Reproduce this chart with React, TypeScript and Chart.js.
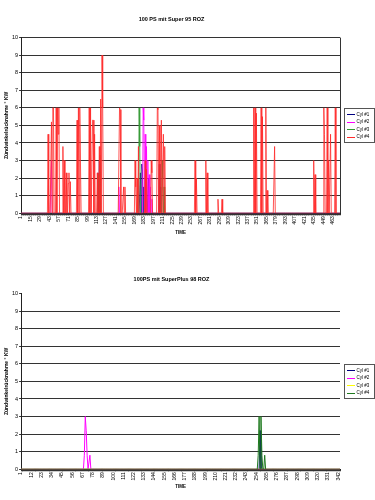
import React, { useEffect, useRef } from 'react';
import { Chart, registerables } from 'chart.js';

Chart.register(...registerables);

// ---------- text ----------
const TITLE_1 = '100 PS mit Super 95 ROZ';
const TITLE_2 = '100PS mit SuperPlus 98 ROZ';
const Y_TITLE = 'Zündwinkelrücknahme ° KW';
const X_TITLE = 'TIME';
const SERIES_NAMES = ['Cyl #1', 'Cyl #2', 'Cyl #3', 'Cyl #4'];

// ---------- axes ----------
const POINTS_1 = 474; // TIME samples, chart 1
const LABEL_STEP_1 = 14; // 1, 15, 29 ... 463
const POINTS_2 = 344; // TIME samples, chart 2
const LABEL_STEP_2 = 11; // 1, 12, 23 ... 342
const Y_MIN = 0;
const Y_MAX = 10;

// ---------- chart 1 data: [TIME, value] (all other samples are 0) ----------
const c1Cyl1 = [
  [115, 2.3], [117, 3], [178, 2.3], [180, 2.8], [181, 2.4], [183, 1.5], [190, 2], [206, 2.8], [208, 1.5],
];
const c1Cyl2 = [
  [46, 3], [146, 1.5], [182, 6], [183, 5.3], [185, 4.5], [187, 3.8], [189, 3], [191, 2.2], [193, 1.5], [195, 0.8],
];
const c1Cyl3 = [
  [116, 2.2], [118, 3.3], [176, 6], [177, 3.8], [210, 3], [211, 2], [213, 1.5],
];
const c1Cyl4 = [
  [41, 4.5], [46, 5.2], [48, 6], [49, 6], [53, 6], [55, 6], [56, 4.5], [57, 6],
  [63, 3.8], [65, 3], [68, 2.3], [71, 1.7], [72, 2.3], [74, 1.8],
  [84, 5.3], [86, 6], [88, 6], [89, 3],
  [102, 6], [104, 6], [107, 5.3], [108, 5.3], [110, 4.5],
  [114, 2.3], [117, 3.8], [119, 6.5], [121, 9], [122, 6],
  [147, 6], [148, 5.9], [153, 1.5], [155, 1.5],
  [170, 3], [171, 1.5], [173, 2], [175, 3.8],
  [185, 3], [187, 2.5], [194, 3], [195, 2.3],
  [203, 6], [204, 5.9], [206, 5], [209, 5.3], [212, 4.5], [214, 3.8],
  [259, 3], [261, 2], [275, 3], [277, 2.3], [293, 0.8], [299, 0.8],
  [346, 6], [348, 6], [350, 5.7], [357, 6], [359, 5.5], [364, 6], [366, 1.3],
  [377, 3.8], [435, 3], [437, 2.2],
  [450, 6], [451, 4.5], [455, 6], [457, 3], [460, 4.5], [467, 6],
];

// ---------- chart 2 data ----------
const c2Cyl1 = [[258, 2.2]];
const c2Cyl2 = [[69, 0.8], [70, 3], [71, 2.2], [72, 0.8], [75, 0.8]];
const c2Cyl3: number[][] = [];
const c2Cyl4 = [[256, 0.8], [257, 3], [259, 3], [260, 0.8], [263, 0.8]];

const COLORS_1 = ['#000080', '#ff00ff', '#339933', '#ff2a2a'];
const COLORS_2 = ['#000080', '#ff00ff', '#ffff00', '#1f7a1f'];

function buildSeries(n: number, spikes: number[][]): number[] {
  const arr = new Array(n).fill(0);
  spikes.forEach(([t, v]) => {
    arr[t - 1] = v;
  });
  return arr;
}

function buildLabels(n: number): string[] {
  return Array.from({ length: n }, (_, i) => String(i + 1));
}

const FONT = 'Arial, "Liberation Sans", sans-serif';

function legendPlugin(colors: string[]) {
  return {
    id: 'boxLegend',
    afterDraw(chart: any) {
      const { ctx, chartArea } = chart;
      const x = Math.round(chartArea.right) + 4;
      const w = 30;
      const h = 34;
      const y = Math.round((chartArea.top + chartArea.bottom) / 2 - h / 2);
      ctx.save();
      ctx.fillStyle = '#fff';
      ctx.fillRect(x, y, w, h);
      ctx.strokeStyle = '#555';
      ctx.lineWidth = 1;
      ctx.strokeRect(x + 0.5, y + 0.5, w, h);
      SERIES_NAMES.forEach((name, i) => {
        const ry = y + 6 + i * 7.5;
        ctx.strokeStyle = colors[i];
        ctx.beginPath();
        ctx.moveTo(x + 3, Math.round(ry) + 0.5);
        ctx.lineTo(x + 11, Math.round(ry) + 0.5);
        ctx.stroke();
        ctx.fillStyle = '#000';
        ctx.font = `4.5px ${FONT}`;
        ctx.textBaseline = 'middle';
        ctx.fillText(name, x + 12.5, ry + 0.5);
      });
      ctx.restore();
    },
  };
}

const framePlugin = {
  id: 'frame',
  afterDatasetsDraw(chart: any) {
    const { ctx, chartArea } = chart;
    ctx.save();
    ctx.strokeStyle = '#333';
    ctx.lineWidth = 1;
    const r = Math.round(chartArea.right) + 0.5;
    ctx.beginPath();
    ctx.moveTo(r, chartArea.top);
    ctx.lineTo(r, chartArea.bottom);
    ctx.stroke();
    ctx.restore();
  },
};

function makeConfig(opts: {
  title: string;
  n: number;
  step: number;
  series: number[][][];
  colors: string[];
  lineWidth: number;
  titlePad: { top: number; bottom: number };
  xTitlePad: { top: number; bottom: number };
  layoutBottom: number;
  hideTopGrid: boolean;
  frame: boolean;
}) {
  const labels = buildLabels(opts.n);
  const datasets = opts.series.map((spikes, i) => ({
    label: SERIES_NAMES[i],
    data: buildSeries(opts.n, spikes),
    borderColor: opts.colors[i],
    backgroundColor: opts.colors[i],
    borderWidth: opts.lineWidth,
    pointRadius: 0,
    tension: 0,
    fill: false,
    order: 3 - i,
  }));
  return {
    type: 'line' as const,
    data: { labels, datasets },
    options: {
      responsive: false,
      animation: false as const,
      events: [],
      layout: { padding: { left: 3, right: 35, top: 0, bottom: opts.layoutBottom } },
      plugins: {
        legend: { display: false },
        tooltip: { enabled: false },
        title: {
          display: true,
          text: opts.title,
          color: '#000',
          font: { family: FONT, size: 5.5, weight: 'bold' as const, lineHeight: 1.2 },
          padding: opts.titlePad,
        },
      },
      scales: {
        x: {
          type: 'category' as const,
          offset: false,
          grid: {
            display: true,
            drawOnChartArea: false,
            drawTicks: true,
            tickLength: 2,
            color: '#333',
            tickColor: '#333',
          },
          border: { display: true, color: '#222', width: 1 },
          ticks: {
            autoSkip: false,
            maxRotation: 90,
            minRotation: 90,
            padding: 1,
            color: '#000',
            font: { family: FONT, size: 5 },
            callback: (_v: any, idx: number) => (idx % opts.step === 0 ? labels[idx] : ''),
          },
          title: {
            display: true,
            text: X_TITLE,
            color: '#000',
            font: { family: FONT, size: 4.5, weight: 'bold' as const, lineHeight: 1.2 },
            padding: opts.xTitlePad,
          },
        },
        y: {
          min: Y_MIN,
          max: Y_MAX,
          grid: {
            drawTicks: true,
            tickLength: 2,
            color: (c: any) => (opts.hideTopGrid && c.tick && c.tick.value === Y_MAX ? 'rgba(0,0,0,0)' : '#333'),
            tickColor: '#333',
            lineWidth: 1,
          },
          border: { display: true, color: '#222', width: 1 },
          ticks: {
            stepSize: 1,
            padding: 1,
            color: '#000',
            font: { family: FONT, size: 5.5 },
          },
          title: {
            display: true,
            text: Y_TITLE,
            color: '#000',
            font: { family: FONT, size: 5, weight: 'bold' as const, lineHeight: 1.2 },
            padding: { top: 1, bottom: 1 },
          },
        },
      },
    },
    plugins: opts.frame ? [framePlugin, legendPlugin(opts.colors)] : [legendPlugin(opts.colors)],
  };
}

function LineChart({ config }: { config: any }) {
  const ref = useRef<HTMLCanvasElement | null>(null);
  useEffect(() => {
    if (!ref.current) return;
    const chart = new Chart(ref.current, config);
    return () => chart.destroy();
  }, [config]);
  return <canvas ref={ref} width={375} height={250} style={{ display: 'block', width: 375, height: 250 }} />;
}

const CONFIG_1 = makeConfig({
  title: TITLE_1,
  n: POINTS_1,
  step: LABEL_STEP_1,
  series: [c1Cyl1, c1Cyl2, c1Cyl3, c1Cyl4],
  colors: COLORS_1,
  lineWidth: 0.8,
  titlePad: { top: 16, bottom: 15 },
  xTitlePad: { top: 4, bottom: 1 },
  layoutBottom: 14,
  hideTopGrid: false,
  frame: true,
});

const CONFIG_2 = makeConfig({
  title: TITLE_2,
  n: POINTS_2,
  step: LABEL_STEP_2,
  series: [c2Cyl1, c2Cyl2, c2Cyl3, c2Cyl4],
  colors: COLORS_2,
  lineWidth: 1,
  titlePad: { top: 26, bottom: 11 },
  xTitlePad: { top: 2, bottom: 1 },
  layoutBottom: 10,
  hideTopGrid: true,
  frame: false,
});

export default function App() {
  return (
    <div style={{ position: 'absolute', left: 0, top: 0, width: 375, height: 500, background: '#fff' }}>
      <LineChart config={CONFIG_1} />
      <LineChart config={CONFIG_2} />
    </div>
  );
}
